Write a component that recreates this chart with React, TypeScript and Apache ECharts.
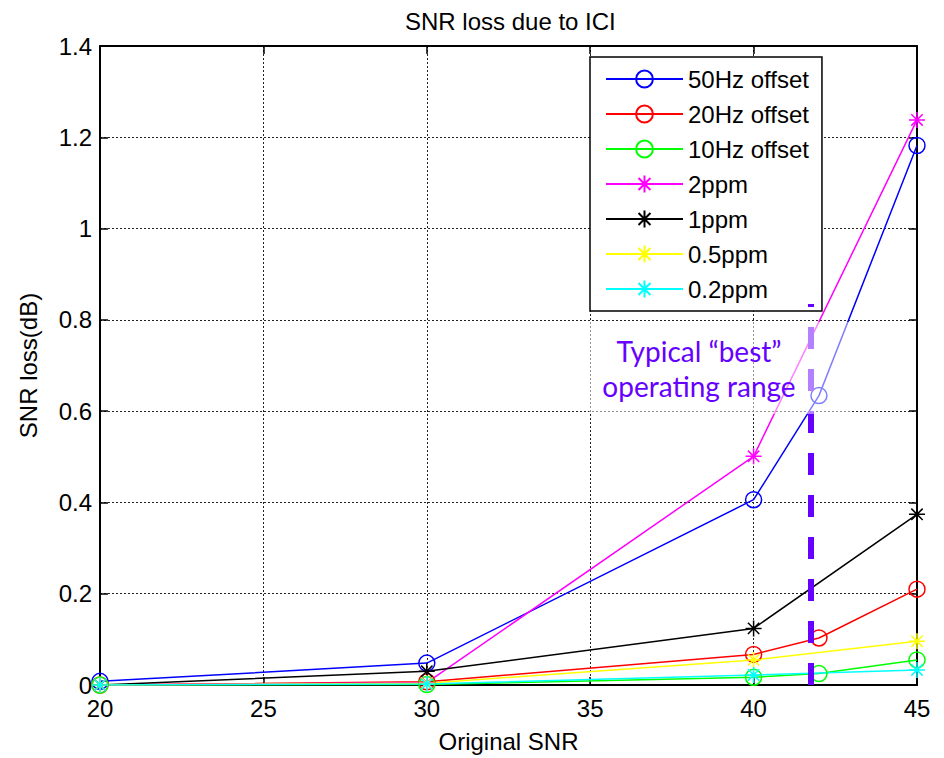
import React, { useEffect, useRef } from "react";
import * as echarts from "echarts";

// ---- data ----
const chartTitle = "SNR loss due to ICI";
const xAxisName = "Original SNR";
const yAxisName = "SNR loss(dB)";

const snrOffset = [20, 30, 40, 42, 45];
const snrPpm = [20, 30, 40, 45];

const hz50 = [0.008, 0.048, 0.406, 0.634, 1.182];
const hz20 = [0, 0.007, 0.067, 0.103, 0.21];
const hz10 = [0, 0.001, 0.017, 0.025, 0.055];
const ppm2 = [0, 0.005, 0.501, 1.238];
const ppm1 = [0, 0.03, 0.124, 0.374];
const ppm05 = [0, 0.004, 0.055, 0.096];
const ppm02 = [0, 0.002, 0.022, 0.033];

const seriesNames = ["50Hz offset", "20Hz offset", "10Hz offset", "2ppm", "1ppm", "0.5ppm", "0.2ppm"];
const seriesColors = ["#0000ff", "#ff0000", "#00ff00", "#ff00ff", "#000000", "#ffff00", "#00ffff"];

const xMin = 20, xMax = 45, xInterval = 5;
const yMin = 0, yMax = 1.4, yInterval = 0.2;

const rangeMarkX = 41.76;
const rangeMarkTop = 0.835;
const annotationLines = ["Typical \u201cbest\u201d", "operating range"];

const FONT = "'Liberation Sans', Arial, sans-serif";
const CIRCLE = "path://M0,10A10,10,0,1,1,20,10A10,10,0,1,1,0,10Z";
const STAR = "path://M10,0L10,20M0,10L20,10M2.9,2.9L17.1,17.1M2.9,17.1L17.1,2.9";

function makeSeries(name: string, color: string, xs: number[], ys: number[], marker: "circle" | "star", extra: any = {}) {
  const isCircle = marker === "circle";
  return {
    type: "line",
    name,
    color,
    data: xs.map((x, i) => [x, ys[i]]),
    symbol: isCircle ? CIRCLE : STAR,
    symbolSize: isCircle ? 16 : 16,
    showSymbol: true,
    lineStyle: { color, width: 1.5 },
    itemStyle: {
      color: isCircle ? "rgba(0,0,0,0)" : color,
      borderColor: color,
      borderWidth: 1.5,
    },
    emphasis: { disabled: true },
    silent: true,
    ...extra,
  };
}

export default function App() {
  const ref = useRef<HTMLDivElement>(null);
  useEffect(() => {
    if (!ref.current) return;
    const chart = echarts.init(ref.current, undefined, { renderer: "svg" });
    const axisLine = { show: true, onZero: false, lineStyle: { color: "#000", width: 2 } };
    const tick = { show: true, inside: true, length: 8, lineStyle: { color: "#000", width: 1.5 } };
    const split = { show: true, lineStyle: { color: "#222", width: 1, type: [2, 2] } };
    const option: any = {
      animation: false,
      backgroundColor: "#fff",
      title: {
        text: chartTitle,
        left: 400,
        top: 4,
        textStyle: { fontFamily: FONT, fontSize: 24, fontWeight: "normal", color: "#000" },
      },
      grid: { left: 100, right: 27, top: 46, bottom: 70, containLabel: false },
      legend: {
        orient: "vertical",
        left: 590,
        top: 57,
        padding: [10, 13, 10, 15],
        itemWidth: 77,
        itemHeight: 21,
        itemGap: 11,
        selectedMode: false,
        backgroundColor: "#fff",
        borderColor: "#000",
        borderWidth: 1.5,
        borderRadius: 0,
        textStyle: { fontFamily: FONT, fontSize: 24, color: "#000", lineHeight: 24 },
        data: seriesNames,
      },
      xAxis: [
        {
          type: "value",
          position: "bottom",
          min: xMin,
          max: xMax,
          interval: xInterval,
          name: xAxisName,
          nameLocation: "middle",
          nameGap: 44,
          nameTextStyle: { fontFamily: FONT, fontSize: 24, color: "#000" },
          axisLine,
          axisTick: tick,
          axisLabel: { fontFamily: FONT, fontSize: 24, color: "#000", margin: 11 },
          splitLine: split,
        },
        {
          type: "value",
          position: "top",
          min: xMin,
          max: xMax,
          interval: xInterval,
          axisLine,
          axisTick: tick,
          axisLabel: { show: false },
          splitLine: { show: false },
        },
      ],
      yAxis: [
        {
          type: "value",
          position: "left",
          min: yMin,
          max: yMax,
          interval: yInterval,
          name: yAxisName,
          nameLocation: "middle",
          nameGap: 60,
          nameTextStyle: { fontFamily: FONT, fontSize: 24, color: "#000" },
          axisLine,
          axisTick: tick,
          axisLabel: { fontFamily: FONT, fontSize: 24, color: "#000", margin: 8 },
          splitLine: split,
        },
        {
          type: "value",
          position: "right",
          min: yMin,
          max: yMax,
          interval: yInterval,
          axisLine,
          axisTick: tick,
          axisLabel: { show: false },
          splitLine: { show: false },
        },
      ],
      series: [
        makeSeries(seriesNames[0], seriesColors[0], snrOffset, hz50, "circle"),
        makeSeries(seriesNames[1], seriesColors[1], snrOffset, hz20, "circle"),
        makeSeries(seriesNames[2], seriesColors[2], snrOffset, hz10, "circle"),
        makeSeries(seriesNames[3], seriesColors[3], snrPpm, ppm2, "star"),
        makeSeries(seriesNames[4], seriesColors[4], snrPpm, ppm1, "star"),
        makeSeries(seriesNames[5], seriesColors[5], snrPpm, ppm05, "star"),
        makeSeries(seriesNames[6], seriesColors[6], snrPpm, ppm02, "star", {
          markLine: {
            silent: true,
            symbol: ["none", "none"],
            label: { show: false },
            lineStyle: { color: "#6600ff", width: 6, type: [22, 20] },
            emphasis: { disabled: true },
            data: [[{ coord: [rangeMarkX, 0] }, { coord: [rangeMarkX, rangeMarkTop] }]],
          },
        }),
      ],
      graphic: [
        {
          type: "rect",
          silent: true,
          z: 50,
          shape: { x: 589, y: 322, width: 262, height: 92 },
          style: { fill: "rgba(255,255,255,0.5)" },
        },
        {
          type: "text",
          silent: true,
          z: 51,
          x: 699,
          y: 333,
          style: {
            text: annotationLines.join("\n"),
            fontFamily: "Lato, 'Open Sans', sans-serif",
            fontSize: 28,
            lineHeight: 35,
            fill: "#6600ff",
            align: "center",
            verticalAlign: "top",
          },
        },
      ],
    };
    chart.setOption(option);
    return () => chart.dispose();
  }, []);
  return <div ref={ref} style={{ position: "fixed", left: 0, top: 0, width: 944, height: 758 }} />;
}
